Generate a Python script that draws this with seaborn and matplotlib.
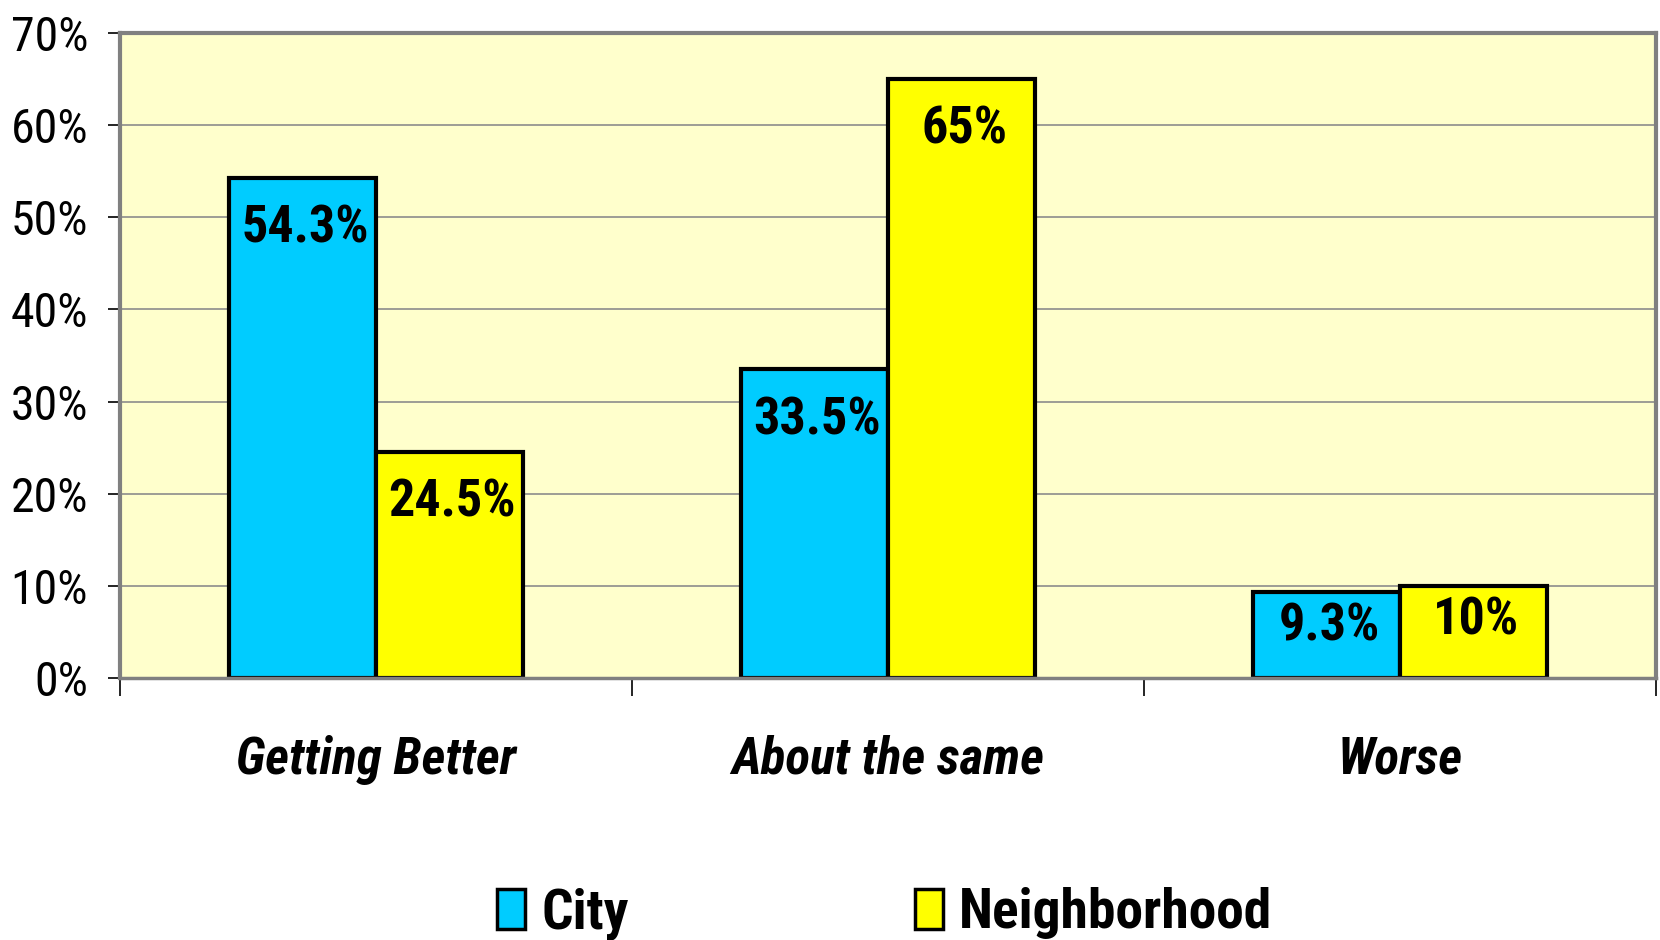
import matplotlib
matplotlib.use("Agg")
import matplotlib.pyplot as plt
from matplotlib import font_manager
from matplotlib.patches import Patch
from matplotlib.ticker import FuncFormatter, FixedLocator
import seaborn as sns
import pandas as pd

# Survey answers
categories = ["Getting Better", "About the same", "Worse"]
city = [54.3, 33.5, 9.3]
neighborhood = [24.5, 65.0, 10.0]
series_names = ["City", "Neighborhood"]
y_ticks = [0, 10, 20, 30, 40, 50, 60, 70]

df = pd.DataFrame({
    "category": categories * 2,
    "value": city + neighborhood,
    "series": [series_names[0]] * 3 + [series_names[1]] * 3,
})

sns.set_theme(style="white")
available = {f.name for f in font_manager.fontManager.ttflist}
candidates = ["Liberation Sans Narrow", "Arial Narrow", "Roboto Condensed",
              "Open Sans Condensed", "Liberation Sans"]
main_font = next((c for c in candidates if c in available), "DejaVu Sans")
plt.rcParams["font.family"] = [main_font, "DejaVu Sans"]
plt.rcParams["text.color"] = "black"
plt.rcParams["xtick.color"] = "black"
plt.rcParams["ytick.color"] = "black"

fig = plt.figure(figsize=(16.6, 9.4), dpi=100)
ax = fig.add_axes([0.0723, 0.2787, 0.9253, 0.6863])
ax.set_facecolor("#FFFFCC")

palette = {"City": "#00CCFF", "Neighborhood": "#FFFF00"}
sns.barplot(data=df, x="category", y="value", hue="series", order=categories,
            hue_order=series_names, palette=palette, width=0.574,
            edgecolor="black", linewidth=3, saturation=1, legend=False, ax=ax)

ax.set_ylim(0, 70)
ax.set_xlim(-0.5, 2.5)
ax.yaxis.set_major_locator(FixedLocator(y_ticks))
ax.yaxis.set_major_formatter(FuncFormatter(lambda v, p: f"{v:.0f}%"))
ax.grid(axis="y", color="#8C8C8C", linewidth=1.2)
ax.set_axisbelow(True)
ax.set_xlabel("")
ax.set_ylabel("")

for side in ["top", "right", "left"]:
    ax.spines[side].set_color("#808080")
    ax.spines[side].set_linewidth(3)
ax.spines["bottom"].set_color("#808080")
ax.spines["bottom"].set_linewidth(2.5)

ax.tick_params(axis="y", which="major", left=True, length=9, width=1.2,
               color="black", labelcolor="black", pad=14, labelsize=34.5)
ax.tick_params(axis="x", which="major", bottom=False, length=0, pad=41,
               labelcolor="black")
ax.set_xticks([-0.5, 0.5, 1.5, 2.5], minor=True)
ax.tick_params(axis="x", which="minor", bottom=True, length=13, width=1.2,
               color="black", direction="out")
for lab in ax.get_xticklabels():
    lab.set_fontsize(37)
    lab.set_fontweight("bold")
    lab.set_fontstyle("italic")

# Value labels inside the top of each bar
ymin, ymax = ax.get_ylim()
axis_px = 0.6863 * 940
for bar in ax.patches:
    h = bar.get_height()
    if h <= 0:
        continue
    bar_px = h / (ymax - ymin) * axis_px
    gap_pt = min(26, bar_px * 0.11) * 72 / 100
    ax.annotate(f"{h:g}%", xy=(bar.get_x() + bar.get_width() / 2, h),
                xytext=(2, -gap_pt), textcoords="offset points",
                ha="center", va="top", fontsize=37.5, fontweight="bold",
                color="black")

handles = [Patch(facecolor=palette[s], edgecolor="black", linewidth=2.5, label=s)
           for s in series_names]
fig.legend(handles=handles, loc="center", bbox_to_anchor=(0.533, 0.028), ncol=2,
           frameon=False, prop={"size": 40, "weight": "bold"},
           handlelength=0.5, handleheight=0.74, handletextpad=0.3,
           columnspacing=5.15, labelcolor="black")

fig.savefig("out.png", dpi=100)
